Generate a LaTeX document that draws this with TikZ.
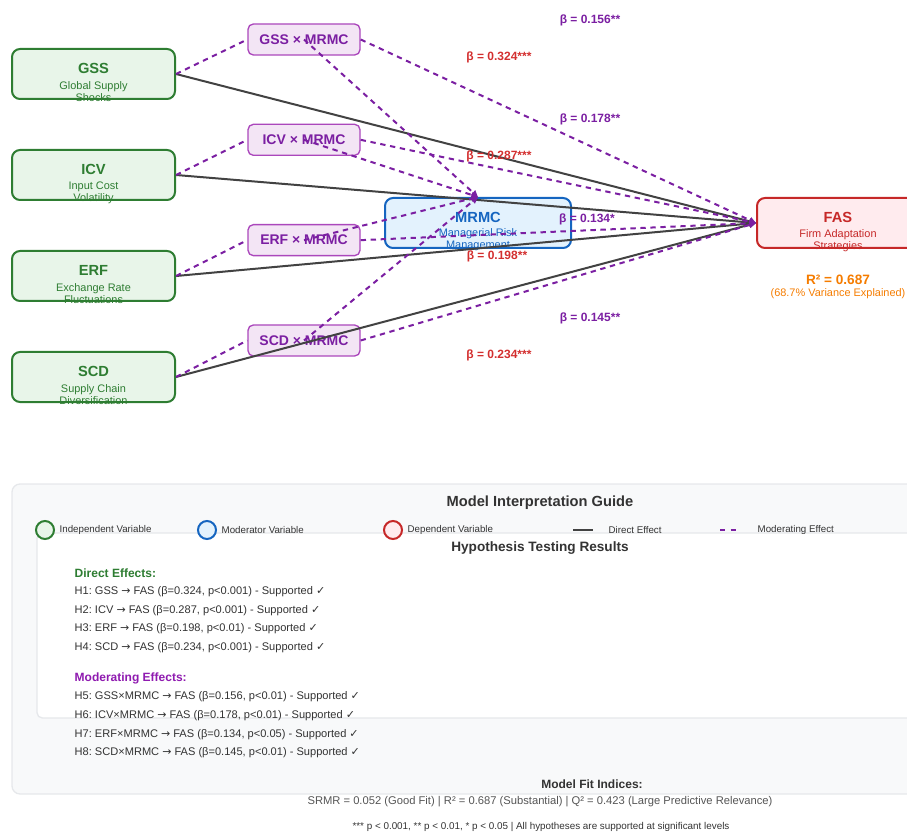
\documentclass[tikz,border=0pt]{standalone}
\usepackage{fontspec}
\setmainfont{Liberation Sans}
\newfontfamily\symfont{DejaVu Sans}
\usetikzlibrary{positioning, arrows.meta}
\frenchspacing

\definecolor{ivgreen}{HTML}{2E7D32}
\definecolor{ivfill}{HTML}{E8F5E9}
\definecolor{mdblue}{HTML}{1565C0}
\definecolor{mdfill}{HTML}{E3F2FD}
\definecolor{dvred}{HTML}{C62828}
\definecolor{dvfill}{HTML}{FFEBEE}
\definecolor{ixline}{HTML}{AB47BC}
\definecolor{ixfill}{HTML}{F3E5F5}
\definecolor{purp}{HTML}{7B1FA2}
\definecolor{betared}{HTML}{D32F2F}
\definecolor{dirgray}{HTML}{424242}
\definecolor{orng}{HTML}{F57C00}
\definecolor{panelfill}{HTML}{F8F9FA}
\definecolor{panelline}{HTML}{E6E8EB}
\definecolor{txtgray}{HTML}{555555}
\definecolor{txtdark}{HTML}{333333}

\newcommand{\okmark}{{\symfont ✓}}
\newcommand{\toarr}{{\symfont\fontsize{8.2}{10}\selectfont →}}

\tikzset{
  box/.style={line width=1.5pt, rounded corners=6pt, minimum height=37.5pt},
  ivbox/.style={box, draw=ivgreen, fill=ivfill, minimum width=122.25pt},
  mrbox/.style={box, draw=mdblue, fill=mdfill, minimum width=139.5pt},
  fasbox/.style={box, draw=dvred, fill=dvfill, minimum width=121.5pt},
  ixbox/.style={draw=ixline, fill=ixfill, line width=1pt, rounded corners=4pt,
    minimum width=84pt, minimum height=23.25pt, text=purp,
    font=\bfseries\fontsize{10.5}{12}\selectfont},
  ttl/.style={font=\bfseries\fontsize{11}{13}\selectfont},
  sub/.style={font=\fontsize{8.2}{9}\selectfont, align=center},
  direct/.style={draw=dirgray, line width=1.5pt, -{Triangle[length=5pt, width=4.5pt]}},
  moder/.style={draw=purp, line width=1.5pt, dash pattern=on 4pt off 3.5pt},
  modarrow/.style={moder, -{Triangle[length=5pt, width=4.5pt]}},
  betap/.style={text=purp, font=\bfseries\fontsize{9}{11}\selectfont},
  betar/.style={text=betared, font=\bfseries\fontsize{9}{11}\selectfont},
  legc/.style={circle, line width=1.5pt, minimum size=13.5pt},
  legtxt/.style={anchor=west, font=\fontsize{7.3}{9}\selectfont, text=txtdark},
  hyp/.style={anchor=west, font=\fontsize{8.3}{10}\selectfont, text=txtdark},
  head/.style={font=\bfseries\fontsize{11}{13}\selectfont, text=txtdark},
}

\begin{document}
\begin{tikzpicture}[x=0.75pt, y=-0.75pt]
   \useasboundingbox (0,0) rectangle (907,834);

   % Variables
   \node[ivbox] (gss) at (93.5,74) {};
   \node[ivbox, below=36.75pt of gss] (icv) {};
   \node[ivbox, below=36.75pt of icv] (erf) {};
   \node[ivbox, below=36.75pt of erf] (scd) {};
   \node[mrbox] (mrmc) at (478,223) {};
   \node[fasbox] (fas) at (838,223) {};

   \node[ttl, text=ivgreen] (gsst) at ([yshift=4.5pt]gss.center) {GSS};
   \node[sub, text=ivgreen] (gsss) at ([yshift=-13.2pt]gss.center) {Global Supply\\Shocks};
   \node[ttl, text=ivgreen] (icvt) at ([yshift=4.5pt]icv.center) {ICV};
   \node[sub, text=ivgreen] (icvs) at ([yshift=-13.2pt]icv.center) {Input Cost\\Volatility};
   \node[ttl, text=ivgreen] (erft) at ([yshift=4.5pt]erf.center) {ERF};
   \node[sub, text=ivgreen] (erfs) at ([yshift=-13.2pt]erf.center) {Exchange Rate\\Fluctuations};
   \node[ttl, text=ivgreen] (scdt) at ([yshift=4.5pt]scd.center) {SCD};
   \node[sub, text=ivgreen] (scds) at ([yshift=-13.2pt]scd.center) {Supply Chain\\Diversification};
   \node[ttl, text=mdblue] (mrmct) at ([yshift=4.5pt]mrmc.center) {MRMC};
   \node[sub, text=mdblue] (mrmcs) at ([yshift=-12.5pt]mrmc.center) {Managerial Risk\\Management};
   \node[ttl, text=dvred] (fast) at ([yshift=4.5pt]fas.center) {FAS};
   \node[sub, text=dvred] (fass) at ([yshift=-13.2pt]fas.center) {Firm Adaptation\\Strategies};

   % Interaction terms
   \node[ixbox] (gssx) at (304,39.5) {GSS × MRMC};
   \node[ixbox, below=51pt of gssx] (icvx) {ICV × MRMC};
   \node[ixbox, below=51pt of icvx] (erfx) {ERF × MRMC};
   \node[ixbox, below=51pt of erfx] (scdx) {SCD × MRMC};

   % Connect the variables
   \path
        (gss.east) edge[direct] (fas.west)
        (icv.east) edge[direct] (fas.west)
        (erf.east) edge[direct] (fas.west)
        (scd.east) edge[direct] (fas.west);
   \path
        (gss.east) edge[moder] (gssx.west)
        (icv.east) edge[moder] (icvx.west)
        (erf.east) edge[moder] (erfx.west)
        (scd.east) edge[moder] (scdx.west);
   \path
        (gssx.center) edge[modarrow] (mrmc.north)
        (icvx.center) edge[modarrow] (mrmc.north)
        (erfx.center) edge[modarrow] (mrmc.north)
        (scdx.center) edge[modarrow] (mrmc.north)
        (gssx.east) edge[modarrow] (fas.west)
        (icvx.east) edge[modarrow] (fas.west)
        (erfx.east) edge[modarrow] (fas.west)
        (scdx.east) edge[modarrow] (fas.west);

   % Path coefficients
   \node[betap] (b5) at (590,20) {β = 0.156**};
   \node[betar] (b1) at (499,57) {β = 0.324***};
   \node[betap] (b6) at (590,119) {β = 0.178**};
   \node[betar] (b2) at (499,156) {β = 0.287***};
   \node[betap] (b7) at (587,219) {β = 0.134*};
   \node[betar] (b3) at (497,256) {β = 0.198**};
   \node[betap] (b8) at (590,318) {β = 0.145**};
   \node[betar] (b4) at (499,355) {β = 0.234***};

   \node[text=orng, font=\bfseries\fontsize{10.2}{12}\selectfont] (r2) at (838,280) {R² = 0.687};
   \node[text=orng, font=\fontsize{8.2}{10}\selectfont] (r2s) at (838,294) {(68.7\% Variance Explained)};

   % Interpretation guide
   \draw[fill=panelfill, draw=panelline, line width=1pt, rounded corners=6pt] (12,484) rectangle (940,794);
   \draw[fill=white, draw=panelline, line width=1pt, rounded corners=4pt] (37,533) rectangle (940,718);
   \node[head] (guide) at (540,503) {Model Interpretation Guide};

   \node[legc, draw=ivgreen, fill=ivfill] (lgiv) at (45,530) {};
   \node[legtxt, right=0pt of lgiv] (lgivt) {Independent Variable};
   \node[legc, draw=mdblue, fill=mdfill] (lgmd) at (207,530) {};
   \node[legtxt, right=0pt of lgmd] (lgmdt) {Moderator Variable};
   \node[legc, draw=dvred, fill=dvfill] (lgdv) at (393,530) {};
   \node[legtxt, right=0pt of lgdv] (lgdvt) {Dependent Variable};
   \draw[dirgray, line width=2.2pt] (573,530) -- (593,530);
   \node[legtxt] (lgdir) at (604,530) {Direct Effect};
   \draw[purp, line width=2.2pt, dash pattern=on 4pt off 4pt] (720,530) -- (740,530);
   \node[legtxt] (lgmod) at (753,530) {Moderating Effect};

   \node[font=\bfseries\fontsize{10.2}{12}\selectfont, text=txtdark] (hyph) at (540,548) {Hypothesis Testing Results};
   \node[anchor=west, text=ivgreen, font=\bfseries\fontsize{9}{11}\selectfont] (dirh) at (70,573) {Direct Effects:};
   \node[hyp] (h1) at (70,592) {H1: GSS \toarr{} FAS (β=0.324, p<0.001) - Supported \okmark};
   \node[hyp] (h2) at (70,611) {H2: ICV \toarr{} FAS (β=0.287, p<0.001) - Supported \okmark};
   \node[hyp] (h3) at (70,629) {H3: ERF \toarr{} FAS (β=0.198, p<0.01) - Supported \okmark};
   \node[hyp] (h4) at (70,648) {H4: SCD \toarr{} FAS (β=0.234, p<0.001) - Supported \okmark};
   \node[anchor=west, text=purp!85!magenta, font=\bfseries\fontsize{9}{11}\selectfont] (modh) at (70,678) {Moderating Effects:};
   \node[hyp] (h5) at (70,697) {H5: GSS×MRMC \toarr{} FAS (β=0.156, p<0.01) - Supported \okmark};
   \node[hyp] (h6) at (70,716) {H6: ICV×MRMC \toarr{} FAS (β=0.178, p<0.01) - Supported \okmark};
   \node[hyp] (h7) at (70,735) {H7: ERF×MRMC \toarr{} FAS (β=0.134, p<0.05) - Supported \okmark};
   \node[hyp] (h8) at (70,753) {H8: SCD×MRMC \toarr{} FAS (β=0.145, p<0.01) - Supported \okmark};

   \node[font=\bfseries\fontsize{9}{11}\selectfont, text=txtdark] (fith) at (592,784) {Model Fit Indices:};
   \node[font=\fontsize{8.4}{10}\selectfont, text=txtgray] (fit) at (540,802) {SRMR = 0.052 (Good Fit) | R² = 0.687 (Substantial) | Q² = 0.423 (Large Predictive Relevance)};
   \node[font=\fontsize{7.4}{9}\selectfont, text=txtdark] (note) at (541,827) {*** p < 0.001, ** p < 0.01, * p < 0.05 | All hypotheses are supported at significant levels};
\end{tikzpicture}
\end{document}
